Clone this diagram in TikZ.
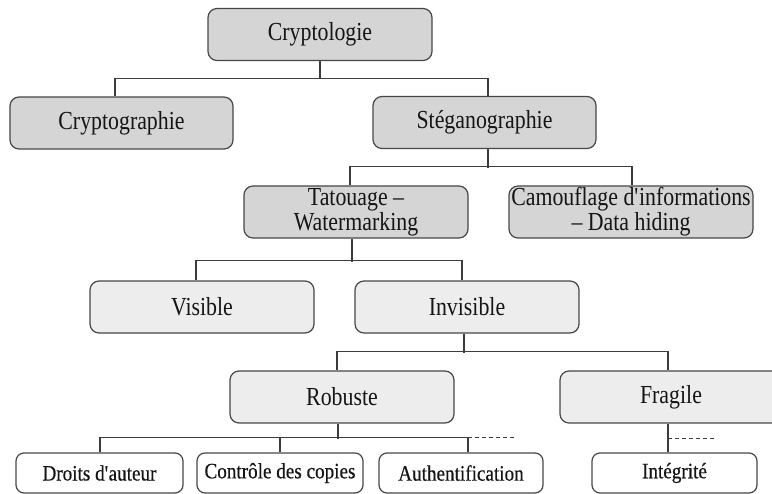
\documentclass[tikz,border=0pt]{standalone}
\usepackage{fontspec}
\setmainfont[FakeStretch=0.84]{Liberation Serif}
\newfontfamily\leaffont[FakeStretch=0.87,FakeBold=0.4]{Liberation Serif}
\definecolor{fillD}{HTML}{D5D5D5}
\definecolor{fillL}{HTML}{EDEDED}
\definecolor{boxline}{HTML}{474747}
\definecolor{linec}{HTML}{3C3C3C}
\definecolor{txt}{HTML}{151515}
\begin{document}
\begin{tikzpicture}[x=1bp,y=-1bp,
  box/.style={draw=boxline, line width=1.2bp, rounded corners=9bp,
    minimum height=52bp, minimum width=224bp, inner sep=0pt, align=center,
    text=txt, font=\fontsize{26bp}{25bp}\selectfont},
  dark/.style={box, fill=fillD},
  light/.style={box, fill=fillL},
  leaf/.style={box, fill=white, minimum height=40bp, minimum width=166bp,
    rounded corners=8bp, font=\leaffont\fontsize{22bp}{23bp}\selectfont},
  link/.style={draw=linec, line width=1.2bp},
  etc/.style={link, dash pattern=on 4bp off 3bp}]
\clip (0,0) rectangle (772,494);

% level 0 and 1
\node[dark] (crypto)   at (320,34.5)  {Cryptologie};
\node[dark, minimum width=223bp] (cgraphie) at (121.5,123) {Cryptographie};
\node[dark, minimum width=223bp] (steg)     at (484.5,122.5) {Stéganographie};

% level 2
\node[dark] (tatou) at (356,212) {Tatouage –\\Watermarking};
\node[dark, minimum width=244bp] (camou) at (631,212)
  {Camouflage d\textquotesingle informations\\– Data hiding};

% level 3
\node[light] (visible)   at (202,307) {Visible};
\node[light] (invisible) at (467,307) {Invisible};

% level 4
\node[light] (robuste) at (342,397) {Robuste};
\node[light, minimum width=222bp] (fragile) at (671,397) {Fragile};

% applications
\node[leaf, minimum width=167bp] (droits)   at (99.5,473) {Droits d\textquotesingle auteur};
\node[leaf] (controle) at (280,473) {Contrôle des copies};
\node[leaf, minimum width=164bp] (authen)   at (461,473) {Authentification};
\node[leaf, minimum width=165bp] (integ)    at (674.5,473) {Intégrité};

% Cryptologie branches
\draw[link] (crypto.south) -- ++(0,18);
\draw[link] ([xshift=-6.5bp]cgraphie.north) -- ++(0,-18) -| ([xshift=3.5bp]steg.north);

% Stéganographie branches
\draw[link] ([xshift=3.5bp]steg.south) -- ++(0,19);
\draw[link] ([xshift=-6bp]tatou.north) -- ++(0,-19) -| ([xshift=1bp]camou.north);

% Tatouage branches
\draw[link] ([xshift=-4bp]tatou.south) -- ++(0,23);
\draw[link] ([xshift=-6bp]visible.north) -- ++(0,-20) -| ([xshift=-5bp]invisible.north);

% Invisible branches
\draw[link] ([xshift=-3bp]invisible.south) -- ++(0,19);
\draw[link] ([xshift=-5bp]robuste.north) -- ++(0,-19) -| ([xshift=-3bp]fragile.north);

% Robuste applications
\draw[link] ([xshift=-4bp]robuste.south) -- ++(0,15);
\draw[link] ([xshift=0.5bp]droits.north) -- ++(0,-15) -| ([xshift=7bp]authen.north);
\draw[link] (controle.north) -- ++(0,-15);
\draw[etc] ([xshift=7bp]authen.north) ++(0,-15) coordinate (aend) -- ++(46,0);

% Fragile application
\draw[link] ([xshift=-3bp]fragile.south) -- ([xshift=-3bp]fragile.south |- integ.north);
\draw[etc] ([xshift=-3bp]fragile.south) ++(0,15) -- ++(48,0);
\end{tikzpicture}
\end{document}
